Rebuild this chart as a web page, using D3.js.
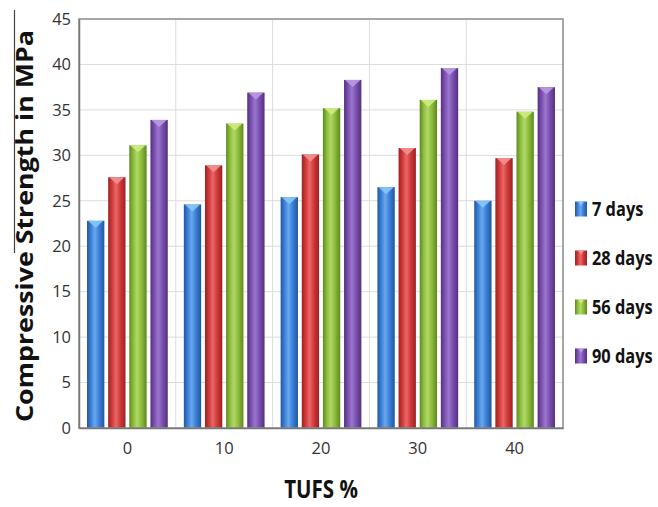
<!DOCTYPE html>
<html>
<head>
<meta charset="utf-8">
<script src="https://cdn.jsdelivr.net/npm/d3@7/dist/d3.min.js"></script>
<style>
  html, body { margin: 0; padding: 0; background: #fff; }
  svg { display: block; }
</style>
</head>
<body>
<svg id="chart" width="658" height="507"></svg>
<script>
// TUFS replacement levels and compressive strength by curing age
const categories = ["0", "10", "20", "30", "40"];
const seriesNames = ["7 days", "28 days", "56 days", "90 days"];
const days7  = [22.8, 24.6, 25.4, 26.5, 25.0];
const days28 = [27.6, 28.9, 30.1, 30.8, 29.7];
const days56 = [31.1, 33.5, 35.2, 36.1, 34.8];
const days90 = [33.9, 36.9, 38.3, 39.6, 37.5];
const yTicks = [0, 5, 10, 15, 20, 25, 30, 35, 40, 45];

const seriesValues = [days7, days28, days56, days90];
const palette = [
  { base: "#3a7fd6", dark: "#22569e", light: "#6aa8ee", cap: "#86c6f7" },
  { base: "#d03838", dark: "#9a2222", light: "#e86868", cap: "#f29090" },
  { base: "#8cbc38", dark: "#5e8922", light: "#b0d86a", cap: "#cdec80" },
  { base: "#7a4fb0", dark: "#53307d", light: "#9a76cc", cap: "#b99ae2" }
];
const bodyFont = "'Open Sans', 'Noto Sans', sans-serif";

const svg = d3.select("#chart");
const plot = { left: 79, top: 19, right: 563, bottom: 428 };

const x0 = d3.scaleBand().domain(categories)
  .range([plot.left, plot.right]).paddingInner(0).paddingOuter(0);
const x1 = d3.scaleBand().domain(seriesNames)
  .range([0, x0.bandwidth()]).paddingInner(0.18).paddingOuter(0.38);
const y = d3.scaleLinear().domain([0, 45]).range([plot.bottom, plot.top]);

// gradients for the rounded bar look
const defs = svg.append("defs");
palette.forEach((c, i) => {
  const g = defs.append("linearGradient").attr("id", "grad" + i)
    .attr("x1", "0%").attr("x2", "100%").attr("y1", "0%").attr("y2", "0%");
  g.append("stop").attr("offset", "0%").attr("stop-color", c.dark);
  g.append("stop").attr("offset", "22%").attr("stop-color", c.base);
  g.append("stop").attr("offset", "45%").attr("stop-color", c.light);
  g.append("stop").attr("offset", "70%").attr("stop-color", c.base);
  g.append("stop").attr("offset", "100%").attr("stop-color", c.dark);
});

// left margin rule
svg.append("line")
  .attr("x1", 14.5).attr("x2", 14.5).attr("y1", 10).attr("y2", 253)
  .attr("stroke", "#444").attr("stroke-width", 1.2);

// gridlines
const grid = svg.append("g");
grid.selectAll("line.h").data(yTicks.slice(1, -1)).join("line")
  .attr("x1", plot.left).attr("x2", plot.right)
  .attr("y1", d => y(d)).attr("y2", d => y(d))
  .attr("stroke", "#dcdcdc").attr("stroke-width", 1);
grid.selectAll("line.v").data(categories.slice(1)).join("line")
  .attr("x1", d => x0(d)).attr("x2", d => x0(d))
  .attr("y1", plot.top).attr("y2", plot.bottom)
  .attr("stroke", "#dcdcdc").attr("stroke-width", 1);

// bars
const groups = svg.append("g").selectAll("g").data(categories).join("g")
  .attr("transform", d => `translate(${x0(d)},0)`);
groups.each(function (cat, ci) {
  const g = d3.select(this);
  seriesNames.forEach((s, si) => {
    const v = seriesValues[si][ci];
    const bx = x1(s), bw = x1.bandwidth();
    const top = y(v);
    g.append("rect")
      .attr("x", bx).attr("y", top)
      .attr("width", bw).attr("height", y(0) - top)
      .attr("fill", `url(#grad${si})`);
    g.append("path")
      .attr("d", `M${bx + 1},${top} L${bx + bw - 1},${top} L${bx + bw / 2},${top + 7} Z`)
      .attr("fill", palette[si].cap).attr("opacity", 0.9);
  });
});

// frame
svg.append("rect")
  .attr("x", plot.left).attr("y", plot.top)
  .attr("width", plot.right - plot.left).attr("height", plot.bottom - plot.top)
  .attr("fill", "none").attr("stroke", "#8a8a8a").attr("stroke-width", 1.5);

// y axis
const yAxis = svg.append("g").attr("transform", `translate(${plot.left},0)`)
  .call(d3.axisLeft(y).tickValues(yTicks).tickSize(0).tickPadding(8));
yAxis.select(".domain").attr("stroke", "#777").attr("stroke-width", 1.5);
yAxis.selectAll("text")
  .attr("font-family", bodyFont)
  .attr("font-size", 16.5).attr("fill", "#333");

// x axis
const xAxis = svg.append("g").attr("transform", `translate(0,${plot.bottom})`)
  .call(d3.axisBottom(x0).tickSize(0).tickPadding(14));
xAxis.select(".domain").attr("stroke", "#777").attr("stroke-width", 1.5);
xAxis.selectAll("text")
  .attr("font-family", bodyFont)
  .attr("font-size", 16.5).attr("fill", "#333");

// axis titles
svg.append("text")
  .attr("transform", `translate(33,226) rotate(-90)`)
  .attr("text-anchor", "middle")
  .attr("font-family", bodyFont)
  .attr("font-weight", "bold").attr("font-size", 23).attr("fill", "#111")
  .attr("textLength", 392).attr("lengthAdjust", "spacingAndGlyphs")
  .text("Compressive Strength in MPa");

svg.append("text")
  .attr("transform", "translate(321,498) scale(0.82,1)")
  .attr("text-anchor", "middle")
  .attr("font-family", bodyFont)
  .attr("font-weight", "bold").attr("font-size", 25).attr("fill", "#111")
  .text("TUFS %");

// legend
const legend = svg.append("g").attr("transform", "translate(575,209)");
const li = legend.selectAll("g").data(seriesNames).join("g")
  .attr("transform", (d, i) => `translate(0,${i * 49})`);
li.append("rect").attr("x", 0).attr("y", -7.5).attr("width", 12).attr("height", 15)
  .attr("fill", (d, i) => `url(#grad${i})`);
li.append("path")
  .attr("d", "M3,-7.5 L9,-7.5 L6,-3 Z")
  .attr("fill", (d, i) => palette[i].cap);
li.append("text")
  .attr("transform", "translate(17,0) scale(0.82,1)")
  .attr("dy", "0.36em")
  .attr("font-family", bodyFont)
  .attr("font-weight", "bold").attr("font-size", 20).attr("fill", "#111")
  .text(d => d);
</script>
</body>
</html>
